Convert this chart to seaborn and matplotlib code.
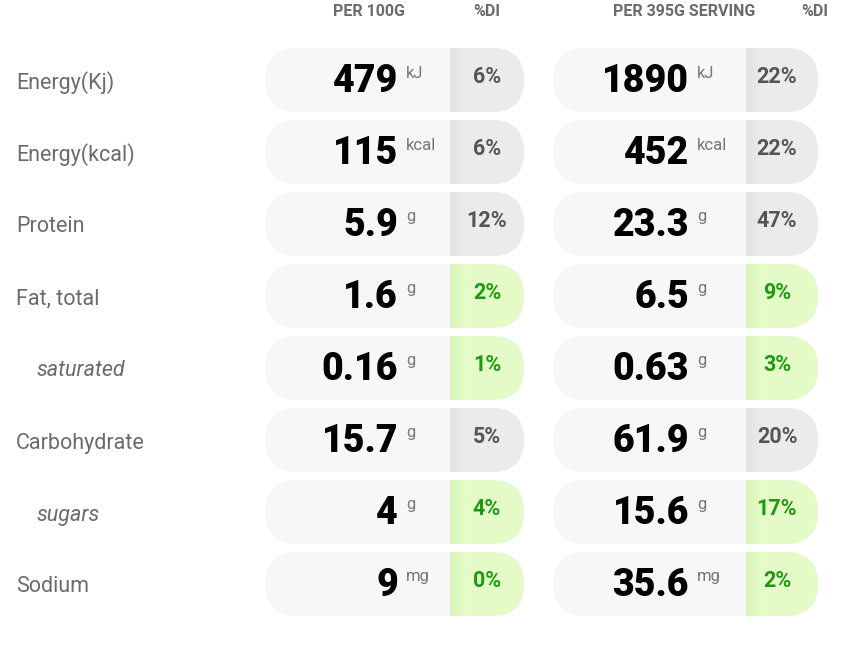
import matplotlib
matplotlib.use("Agg")
import matplotlib.pyplot as plt
import seaborn as sns
from matplotlib.patches import FancyBboxPatch, Rectangle

# data
nutrients = ["Energy(Kj)", "Energy(kcal)", "Protein", "Fat, total", "saturated",
             "Carbohydrate", "sugars", "Sodium"]
sub_rows = ["saturated", "sugars"]
units = ["kJ", "kcal", "g", "g", "g", "g", "g", "mg"]
per_100g = ["479", "115", "5.9", "1.6", "0.16", "15.7", "4", "9"]
di_100g = [6, 6, 12, 2, 1, 5, 4, 0]
per_serving = ["1890", "452", "23.3", "6.5", "0.63", "61.9", "15.6", "35.6"]
di_serving = [22, 22, 47, 9, 3, 20, 17, 2]
# which %DI cells are highlighted green
low_flags = ["Fat, total", "saturated", "sugars", "Sodium"]
headers = ["PER 100G", "%DI", "PER 395G SERVING", "%DI"]

sns.set_theme(style="white")
plt.rcParams["font.family"] = ["Roboto", "DejaVu Sans"]

fig = plt.figure(figsize=(8.66, 6.5), dpi=100)
ax = fig.add_axes([0, 0, 1, 1])
ax.set_xlim(0, 866)
ax.set_ylim(650, 0)
ax.axis("off")

GREY_TXT = "#6b6b6b"

# column layout: (pill left, split, pill right, value offset, %DI offset)
cols = [(265, 450, 524, 52, 37), (553, 746, 818, 57, 31)]
row_h = 64
y0, dy = 80, 72

# headers
hx = [369, 487, 684, 815]
for x, h in zip(hx, headers):
    ax.text(x, 12, h, ha="center", va="center", fontsize=11.5,
            fontweight="bold", color=GREY_TXT)

for i, name in enumerate(nutrients):
    yc = y0 + dy * i
    if name in sub_rows:
        ax.text(37, yc + 3, name, ha="left", va="center", fontsize=15.5,
                style="italic", color=GREY_TXT)
    else:
        ax.text(16, yc + 3, name, ha="left", va="center", fontsize=15.5,
                color=GREY_TXT)

    for (left, split, right, voff, doff), vals, dis in zip(
            cols, [per_100g, per_serving], [di_100g, di_serving]):
        pill = FancyBboxPatch((left, yc - row_h / 2), right - left, row_h,
                              boxstyle="round,pad=0,rounding_size=32",
                              facecolor="#f7f7f7", edgecolor="none")
        ax.add_patch(pill)
        green = name in low_flags
        fill = "#e4fbc8" if green else "#ebebeb"
        edge = "#d4f2b0" if green else "#dedede"
        r = Rectangle((split, yc - row_h / 2), right - split, row_h,
                      facecolor=fill, edgecolor="none")
        ax.add_patch(r)
        r.set_clip_path(pill)
        # soft shading along the left edge of the %DI cell
        for k in range(8):
            e = Rectangle((split + 2 * k, yc - row_h / 2), 2, row_h,
                          facecolor=edge, edgecolor="none",
                          alpha=0.6 * (1 - k / 8))
            ax.add_patch(e)

        ax.text(split - voff, yc + 2, vals[i], ha="right", va="center",
                fontsize=27, fontweight="heavy", color="black")
        ax.text(split - voff + 8, yc - 7, units[i], ha="left", va="center",
                fontsize=12, color="#777777")
        ax.text(split + doff, yc - 3, f"{dis[i]}%",
                ha="center", va="center", fontsize=15.5, fontweight="bold",
                color="#1e9a12" if green else "#555555")

fig.savefig("out.png", dpi=100)
